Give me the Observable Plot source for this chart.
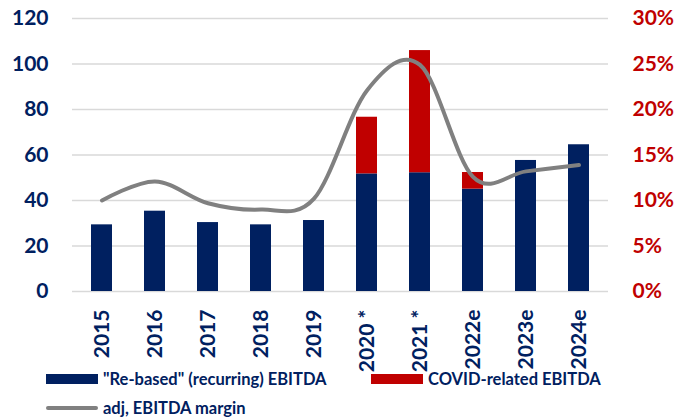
<!DOCTYPE html>
<html>
<head>
<meta charset="utf-8">
<script src="https://cdn.jsdelivr.net/npm/d3@7"></script>
<script src="https://cdn.jsdelivr.net/npm/@observablehq/plot@0.6"></script>
<style>
  html, body { margin: 0; padding: 0; background: #fff; }
  #wrap { position: relative; width: 685px; height: 418px; font-family: Lato, sans-serif; }
  .sw { position: absolute; }
  .lt { position: absolute; font-family: Lato, sans-serif; font-weight: bold; font-size: 16.5px; line-height: 16px; color: #002060; white-space: nowrap; }
</style>
</head>
<body>
<div id="wrap"></div>
<script>
const years = ["2015", "2016", "2017", "2018", "2019", "2020 *", "2021 *", "2022e", "2023e", "2024e"];
const recurring = [29.3, 35.3, 30.3, 29.3, 31.2, 51.7, 52.2, 45.0, 57.6, 64.5];
const covid = [0, 0, 0, 0, 0, 24.9, 53.7, 7.3, 0, 0];
const marginPct = [10.0, 12.1, 9.7, 9.0, 10.2, 22.1, 24.9, 12.6, 13.2, 13.9];
const leftTicks = [0, 20, 40, 60, 80, 100, 120];
const rightTickLabels = ["0%", "5%", "10%", "15%", "20%", "25%", "30%"];
const seriesNames = ["\"Re-based\" (recurring) EBITDA", "COVID-related EBITDA", "adj, EBITDA margin"];

const NAVY = "#002060", RED = "#c00000", GREY = "#808080";

const bars = [];
years.forEach((y, i) => {
  bars.push({year: y, series: seriesNames[0], value: recurring[i]});
  bars.push({year: y, series: seriesNames[1], value: covid[i]});
});
// margin plotted on the left scale: 30% <-> 120
const line = years.map((y, i) => ({year: y, m: marginPct[i] * 4}));

const chart = Plot.plot({
  width: 685,
  height: 372,
  marginLeft: 72,
  marginRight: 77,
  marginTop: 18,
  marginBottom: 81,
  style: {fontFamily: "Lato, sans-serif", background: "#fff"},
  x: {domain: years, paddingInner: 0.6, paddingOuter: 0.3, axis: null, label: null},
  y: {domain: [0, 120], axis: null, label: null},
  color: {domain: seriesNames.slice(0, 2), range: [NAVY, RED]},
  marks: [
    Plot.ruleY(leftTicks, {stroke: "#d9d9d9", strokeWidth: 1.6}),
    Plot.barY(bars, {x: "year", y: "value", fill: "series", order: seriesNames.slice(0, 2)}),
    Plot.lineY(line, {x: "year", y: "m", curve: "cardinal", tension: 0, stroke: GREY, strokeWidth: 4, strokeLinecap: "round"}),
    Plot.axisY(leftTicks, {anchor: "left", tickSize: 0, tickPadding: 24, fontSize: 21, fontWeight: "bold", fill: NAVY, label: null}),
    Plot.axisY(leftTicks, {anchor: "right", tickSize: 0, tickPadding: 24, fontSize: 21, fontWeight: "bold", fill: RED, label: null,
      tickFormat: d => rightTickLabels[leftTicks.indexOf(d)]}),
    Plot.axisX(years, {tickRotate: -90, tickSize: 0, tickPadding: 18, fontSize: 21, fontWeight: "bold", fill: NAVY, label: null})
  ]
});

const wrap = document.getElementById("wrap");
wrap.appendChild(chart);

function addSwatch(left, top, w, h, color, radius) {
  const d = document.createElement("div");
  d.className = "sw";
  Object.assign(d.style, {left: left + "px", top: top + "px", width: w + "px", height: h + "px", background: color, borderRadius: (radius || 0) + "px"});
  wrap.appendChild(d);
}
function addText(left, top, txt) {
  const s = document.createElement("div");
  s.className = "lt";
  s.style.left = left + "px";
  s.style.top = top + "px";
  s.textContent = txt;
  wrap.appendChild(s);
}
addSwatch(46, 374, 52, 10, NAVY);
addText(103, 371, seriesNames[0]);
addSwatch(371, 374, 52, 10, RED);
addText(428, 371, seriesNames[1]);
addSwatch(46, 406, 52, 4, GREY, 2);
addText(103, 400, seriesNames[2]);
</script>
</body>
</html>
